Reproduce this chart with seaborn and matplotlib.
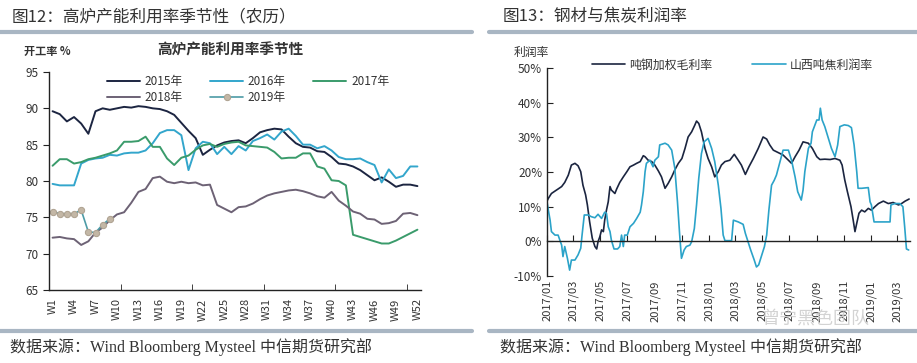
import numpy as np
import pandas as pd
import seaborn as sns
import matplotlib.pyplot as plt
import matplotlib.dates as mdates
from matplotlib.lines import Line2D
from matplotlib.ticker import FuncFormatter

sns.set_style('white')
plt.rcParams['font.family'] = ['Noto Sans CJK SC', 'DejaVu Sans']
plt.rcParams['axes.unicode_minus'] = False

#%%
# Fig 12 data: blast furnace utilisation by lunar week
weeks = list(range(1, 53))
week_ticks = list(range(1, 53, 3))
week_labels = ['W%d' % w for w in week_ticks]

util_2015 = [89.6, 89.2, 88.2, 88.8, 87.9, 86.5, 89.6, 90.0, 89.8, 90.0,
             90.2, 90.1, 90.3, 90.2, 90.0, 89.9, 89.6, 89.1, 88.0, 86.9,
             85.9, 83.6, 84.3, 84.9, 85.3, 85.5, 85.6, 85.2, 85.9, 86.7,
             87.0, 87.2, 87.1, 86.1, 85.2, 84.7, 84.6, 84.1, 84.0, 83.3,
             82.4, 82.3, 82.0, 81.5, 80.8, 80.1, 80.5, 79.9, 79.2, 79.5,
             79.5, 79.3]
util_2016 = [79.6, 79.4, 79.4, 79.4, 82.4, 82.9, 83.1, 83.2, 83.6, 83.5,
             83.8, 83.9, 83.9, 84.2, 85.2, 86.6, 87.0, 87.0, 86.3, 81.5,
             84.5, 85.4, 85.2, 83.7, 84.7, 83.7, 84.8, 84.2, 85.5, 85.9,
             86.4, 85.7, 86.8, 87.2, 86.2, 85.0, 85.0, 84.5, 84.8, 84.2,
             83.3, 83.0, 83.0, 83.1, 82.6, 82.2, 79.8, 81.6, 80.4, 80.7,
             82.0, 82.0]
util_2017 = [82.1, 83.0, 83.0, 82.4, 82.6, 83.0, 83.2, 83.5, 83.8, 84.2,
             85.4, 85.4, 85.5, 86.1, 84.7, 84.7, 83.1, 82.2, 83.2, 83.5,
             84.3, 84.9, 85.1, 84.7, 85.1, 85.3, 85.4, 84.9, 84.8, 84.7,
             84.6, 84.0, 83.1, 83.2, 83.2, 83.8, 83.8, 82.0, 81.7, 80.1,
             80.0, 79.4, 72.6, 72.3, 72.0, 71.7, 71.4, 71.4, 71.8, 72.3,
             72.8, 73.3]
util_2018 = [72.2, 72.3, 72.1, 72.0, 71.2, 71.7, 72.9, 73.6, 74.6, 75.4,
             75.7, 77.0, 78.5, 78.9, 80.4, 80.6, 79.9, 79.7, 79.9, 79.7,
             79.8, 79.4, 79.5, 76.7, 76.2, 75.7, 76.4, 76.5, 76.9, 77.5,
             78.0, 78.3, 78.5, 78.7, 78.8, 78.6, 78.3, 77.9, 77.7, 78.5,
             77.3, 76.6, 75.8, 75.5, 74.8, 74.7, 74.1, 74.2, 74.5, 75.5,
             75.6, 75.3]
util_2019 = [75.8, 75.5, 75.5, 75.5, 76.0, 73.0, 72.9, 74.0, 74.8]

#%%
# Fig 13 data: steel gross margin and Shanxi coke margin (%)
steel_dates = ['2017-01-01', '2017-01-04', '2017-01-11', '2017-01-19', '2017-01-26',
               '2017-02-03', '2017-02-10', '2017-02-18', '2017-02-25', '2017-03-05',
               '2017-03-12', '2017-03-18', '2017-03-23', '2017-03-29', '2017-04-02',
               '2017-04-07', '2017-04-13', '2017-04-19', '2017-04-23', '2017-04-26',
               '2017-04-30', '2017-05-04', '2017-05-08', '2017-05-11', '2017-05-15',
               '2017-05-19', '2017-05-23', '2017-05-26', '2017-06-03', '2017-06-07',
               '2017-06-14', '2017-06-22', '2017-06-30', '2017-07-07', '2017-07-15',
               '2017-07-22', '2017-07-30', '2017-08-06', '2017-08-10', '2017-08-17',
               '2017-08-25', '2017-09-01', '2017-09-09', '2017-09-16', '2017-09-24',
               '2017-10-01', '2017-10-09', '2017-10-16', '2017-10-24', '2017-11-01',
               '2017-11-08', '2017-11-15', '2017-11-23', '2017-11-30', '2017-12-04',
               '2017-12-09', '2017-12-15', '2017-12-23', '2017-12-30', '2018-01-07',
               '2018-01-14', '2018-01-22', '2018-01-29', '2018-02-06', '2018-02-17',
               '2018-02-27', '2018-03-08', '2018-03-15', '2018-03-24', '2018-04-01',
               '2018-04-11', '2018-04-22', '2018-05-03', '2018-05-11', '2018-05-18',
               '2018-05-26', '2018-06-06', '2018-06-17', '2018-06-29', '2018-07-06',
               '2018-07-14', '2018-07-23', '2018-08-01', '2018-08-13', '2018-08-22',
               '2018-09-01', '2018-09-08', '2018-09-19', '2018-10-01', '2018-10-12',
               '2018-10-23', '2018-10-28', '2018-11-03', '2018-11-09', '2018-11-17',
               '2018-11-22', '2018-11-26', '2018-11-30', '2018-12-05', '2018-12-11',
               '2018-12-18', '2018-12-26', '2019-01-02', '2019-01-10', '2019-01-18',
               '2019-01-29', '2019-02-09', '2019-02-20', '2019-03-04', '2019-03-11',
               '2019-03-19', '2019-03-28']
steel_margin = [11.6, 12.4, 13.8, 14.5, 15.1, 15.8, 17.0, 19.1, 22.0, 22.5,
                21.8, 20.1, 16.2, 13.4, 10.5, 5.7, 0.9, -1.5, -2.2, -0.1,
                1.3, 3.3, 2.8, 6.1, 9.0, 11.4, 15.8, 14.8, 13.8, 15.1,
                17.0, 18.6, 20.1, 21.5, 22.0, 22.5, 23.0, 24.7, 24.4, 23.4,
                23.0, 22.0, 20.3, 18.6, 15.3, 16.7, 18.6, 20.6, 22.5, 23.9,
                26.8, 30.1, 31.6, 33.5, 34.7, 34.0, 31.6, 26.8, 23.9, 21.5,
                18.6, 20.1, 22.0, 23.0, 23.4, 25.1, 23.4, 22.0, 19.3, 21.5,
                23.9, 26.8, 30.1, 29.5, 27.8, 26.3, 25.6, 24.9, 23.4, 22.5,
                24.4, 26.3, 28.7, 28.3, 26.8, 24.4, 23.6, 23.7, 23.6, 23.9,
                23.4, 22.0, 17.7, 14.3, 10.0, 6.1, 2.8, 5.2, 8.1, 9.0,
                8.5, 9.5, 9.0, 10.0, 10.9, 11.6, 10.9, 11.2, 10.5, 10.9,
                11.6, 12.2]

coke_dates = ['2017-01-01', '2017-01-04', '2017-01-08', '2017-01-11', '2017-01-19',
              '2017-01-26', '2017-02-03', '2017-02-06', '2017-02-10', '2017-02-16',
              '2017-02-21', '2017-02-25', '2017-03-05', '2017-03-12', '2017-03-18',
              '2017-03-21', '2017-03-26', '2017-04-04', '2017-04-11', '2017-04-19',
              '2017-04-26', '2017-05-04', '2017-05-11', '2017-05-15', '2017-05-19',
              '2017-05-23', '2017-05-26', '2017-06-01', '2017-06-09', '2017-06-14',
              '2017-06-18', '2017-06-22', '2017-06-25', '2017-07-01', '2017-07-07',
              '2017-07-15', '2017-07-22', '2017-07-30', '2017-08-02', '2017-08-06',
              '2017-08-10', '2017-08-13', '2017-08-21', '2017-08-28', '2017-09-01',
              '2017-09-09', '2017-09-12', '2017-09-24', '2017-10-01', '2017-10-09',
              '2017-10-16', '2017-10-22', '2017-10-27', '2017-10-31', '2017-11-06',
              '2017-11-11', '2017-11-19', '2017-11-23', '2017-11-29', '2017-12-04',
              '2017-12-09', '2017-12-15', '2017-12-21', '2017-12-30', '2018-01-07',
              '2018-01-14', '2018-01-22', '2018-01-28', '2018-02-02', '2018-02-06',
              '2018-02-21', '2018-02-25', '2018-03-08', '2018-03-19', '2018-03-24',
              '2018-03-30', '2018-04-05', '2018-04-13', '2018-04-18', '2018-04-23',
              '2018-04-30', '2018-05-06', '2018-05-11', '2018-05-16', '2018-05-22',
              '2018-05-28', '2018-06-02', '2018-06-10', '2018-06-17', '2018-06-29',
              '2018-07-06', '2018-07-14', '2018-07-20', '2018-07-28', '2018-08-01',
              '2018-08-05', '2018-08-13', '2018-08-19', '2018-08-22', '2018-09-01',
              '2018-09-06', '2018-09-09', '2018-09-13', '2018-09-19', '2018-09-27',
              '2018-10-04', '2018-10-12', '2018-10-18', '2018-10-23', '2018-11-02',
              '2018-11-11', '2018-11-18', '2018-11-24', '2018-11-30', '2018-12-03',
              '2018-12-11', '2018-12-26', '2018-12-30', '2019-01-02', '2019-01-08',
              '2019-01-25', '2019-02-13', '2019-02-15', '2019-02-24', '2019-03-07',
              '2019-03-14', '2019-03-18', '2019-03-22', '2019-03-27']
coke_margin = [11.4, 9.0, 6.1, 2.8, 1.8, 1.8, -1.1, -4.4, -1.5, -4.9,
               -8.3, -5.4, -5.4, -3.9, -2.0, 1.8, 7.6, 7.6, 7.1, 6.8,
               7.8, 6.6, 8.4, 8.1, 4.2, 2.8, 0.4, -2.2, -2.2, -1.5,
               1.8, -1.5, 1.8, 1.8, 4.2, 5.2, 6.6, 8.4, 10.5, 14.3,
               20.1, 22.5, 23.4, 21.5, 23.4, 24.4, 27.8, 28.3, 27.8, 26.3,
               21.1, 11.4, 1.8, -4.9, -2.5, -1.5, -1.1, -0.1, 3.7, 10.5,
               18.2, 25.3, 28.7, 29.7, 26.8, 23.0, 16.2, 9.5, 1.8, 0.2,
               0.2, 6.1, 5.6, 4.9, 2.3, -0.1, -2.5, -5.4, -7.4, -6.8,
               -3.9, -1.5, 1.8, 9.0, 16.2, 17.6, 19.1, 23.0, 26.3, 26.3,
               23.4, 18.6, 14.3, 11.9, 14.8, 20.1, 26.8, 28.3, 31.6, 35.0,
               35.0, 38.4, 35.0, 33.1, 29.7, 26.8, 24.4, 27.8, 33.1, 33.6,
               33.4, 32.8, 27.8, 20.1, 15.3, 15.3, 15.5, 11.4, 10.5, 5.6,
               5.6, 5.6, 10.5, 10.9, 10.9, 10.0, 4.2, -2.2, -2.5]

#%%
W, H = 917, 363
fig = plt.figure(figsize=(W / 100, H / 100), dpi=100)

def fx(px):
    return px / W

def fy(py):
    return 1 - py / H

txt = '#333333'
rule = '#a9b6c3'
foot_font = ['Liberation Serif', 'Noto Sans CJK SC']

# headers, rules and footers
fig.text(fx(12), fy(17), '图12：高炉产能利用率季节性（农历）', fontsize=12, color=txt, va='center')
fig.text(fx(503), fy(17), '图13：钢材与焦炭利润率', fontsize=12, color=txt, va='center')
for x0, x1 in [(0, 472), (489, W)]:
    fig.add_artist(Line2D([fx(x0), fx(x1)], [fy(32), fy(32)], lw=3, color=rule))
    fig.add_artist(Line2D([fx(x0), fx(x1)], [fy(331), fy(331)], lw=3, color=rule))
fig.text(fx(10), fy(347), '数据来源：Wind Bloomberg Mysteel 中信期货研究部',
         fontsize=11.5, color=txt, va='center', family=foot_font)
fig.text(fx(500), fy(347), '数据来源：Wind Bloomberg Mysteel 中信期货研究部',
         fontsize=11.5, color=txt, va='center', family=foot_font)
fig.text(fx(762), fy(319), '曾宁黑色团队', fontsize=13, color='#cccccc', va='center', alpha=0.85)

#%%
# left chart
ax1 = fig.add_axes([fx(49), fy(290), fx(421) - fx(49), fy(72) - fy(290)])
series = [('2015年', util_2015, '#1c2541'), ('2016年', util_2016, '#33a6cc'),
          ('2017年', util_2017, '#3a9b6b'), ('2018年', util_2018, '#6d6275')]
for name, vals, col in series:
    sns.lineplot(x=weeks[:len(vals)], y=vals, ax=ax1, color=col, lw=1.4, label=name)
sns.lineplot(x=weeks[:len(util_2019)], y=util_2019, ax=ax1, color='#4d9ba6', lw=1.2,
             marker='o', ms=4.5, mfc='#c3b7a6', mec='#aea291', label='2019年')

ax1.set_xlim(0.5, 52.5)
ax1.set_ylim(65, 95)
ax1.set_yticks(range(65, 96, 5))
ax1.set_xticks(week_ticks)
ax1.set_xticklabels(week_labels, rotation=90)
ax1.set_xticks([10.5, 20.5, 30.5, 40.5, 50.5], minor=True)
ax1.tick_params(axis='x', which='major', length=0, pad=6, labelsize=8, colors=txt)
ax1.tick_params(axis='x', which='minor', length=4, direction='in', color='#222222', bottom=True)
ax1.tick_params(axis='y', length=4, direction='out', labelsize=8.5, colors=txt, color='#222222', left=True)
ax1.set_xlabel('')
ax1.set_ylabel('')
for s in ['top', 'right']:
    ax1.spines[s].set_visible(False)
for s in ['left', 'bottom']:
    ax1.spines[s].set_color('#222222')
    ax1.spines[s].set_linewidth(1.0)

h, l = ax1.get_legend_handles_labels()
order = [0, 3, 1, 4, 2]
ax1.legend([h[i] for i in order], [l[i] for i in order], ncol=3, frameon=False,
           loc='center left', bbox_to_anchor=(fx(107), fy(89.5)), bbox_transform=fig.transFigure,
           borderpad=0, borderaxespad=0, handlelength=2.8, handletextpad=0.4,
           columnspacing=2.3, labelspacing=0.2, fontsize=8.5, labelcolor=txt)
fig.text(fx(24), fy(51), '开工率 %', fontsize=8, color=txt, va='center', fontweight='bold')
fig.text(fx(230), fy(50), '高炉产能利用率季节性', fontsize=10.5, color=txt, va='center',
         ha='center', fontweight='bold')

#%%
# right chart
ax2 = fig.add_axes([fx(547), fy(276), fx(910) - fx(547), fy(68) - fy(276)])
steel = pd.DataFrame({'date': pd.to_datetime(steel_dates), 'margin': steel_margin})
coke = pd.DataFrame({'date': pd.to_datetime(coke_dates), 'margin': coke_margin})
sns.lineplot(data=steel, x='date', y='margin', ax=ax2, color='#1b2540', lw=1.2,
             sort=False, estimator=None, label='吨钢加权毛利率')
sns.lineplot(data=coke, x='date', y='margin', ax=ax2, color='#2ba3c9', lw=1.2,
             sort=False, estimator=None, label='山西吨焦利润率')

ax2.set_ylim(-10, 50)
ax2.set_yticks(range(-10, 51, 10))
ax2.yaxis.set_major_formatter(FuncFormatter(lambda v, p: '%d%%' % v))
ax2.set_xlim(pd.Timestamp('2017-01-01'), pd.Timestamp('2019-03-30'))
ax2.xaxis.set_major_locator(mdates.MonthLocator(bymonth=[1, 3, 5, 7, 9, 11]))
ax2.xaxis.set_major_formatter(mdates.DateFormatter('%Y/%m'))
ax2.spines['bottom'].set_position(('data', 0))
for s in ['top', 'right']:
    ax2.spines[s].set_visible(False)
for s in ['left', 'bottom']:
    ax2.spines[s].set_color('#222222')
    ax2.spines[s].set_linewidth(1.0)
ax2.tick_params(axis='x', length=4, direction='in', color='#222222', pad=28,
                labelsize=8, colors=txt, labelrotation=90, bottom=True)
ax2.tick_params(axis='y', length=4, direction='in', color='#222222', labelsize=8.5,
                colors=txt, left=True)
ax2.set_xlabel('')
ax2.set_ylabel('')
ax2.legend(ncol=2, frameon=False, loc='center left', bbox_to_anchor=(fx(592), fy(65)),
           bbox_transform=fig.transFigure, borderpad=0, borderaxespad=0,
           handlelength=2.8, handletextpad=0.35, columnspacing=3.3, fontsize=8.6,
           labelcolor=txt)
fig.text(fx(514), fy(52), '利润率', fontsize=8.5, color=txt, va='center')

fig.savefig('out.png', dpi=100, facecolor='white')
